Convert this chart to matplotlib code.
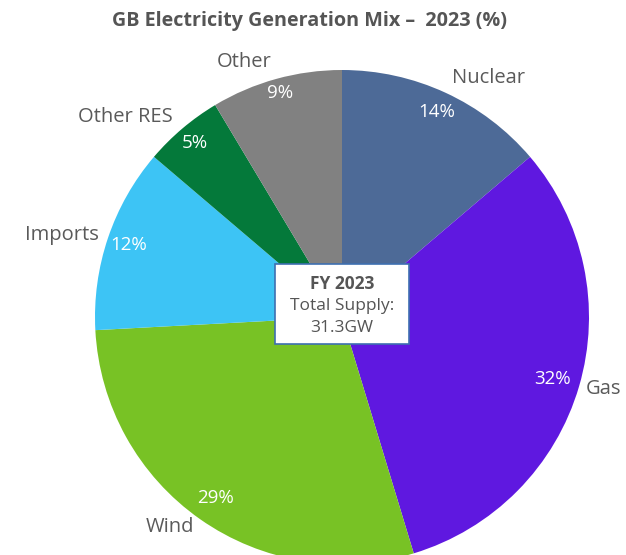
import numpy as np
import matplotlib
matplotlib.use("Agg")
import matplotlib.pyplot as plt
from matplotlib.patches import Rectangle

categories = ["Nuclear", "Gas", "Wind", "Imports", "Other RES", "Other"]
shares = [13.8, 31.6, 28.9, 12.1, 5.2, 8.6]
colors = ["#4D6A97", "#5F18E0", "#78C225", "#3DC4F5", "#04793A", "#818181"]
title = "GB Electricity Generation Mix \u2013  2023 (%)"
box_lines = ["FY 2023", "Total Supply:", "31.3GW"]

pct_labels = [f"{round(v)}%" for v in shares]
label_dist = [1.065, 1.03, 1.04, 1.04, 1.06, 1.07]
pct_dist = [0.915, 0.89, 0.895, 0.91, 0.925, 0.94]

plt.rcParams["font.family"] = ["Open Sans", "DejaVu Sans"]

W, H = 626, 555
fig = plt.figure(figsize=(W / 100, H / 100), dpi=100)
ax = fig.add_axes([0, 0, 1, 1])

cx, cy, R = 342, H - 317, 247
wedges, texts, autotexts = ax.pie(
    shares, colors=colors, labels=categories, autopct="%1.0f%%",
    startangle=90, counterclock=False, center=(cx, cy), radius=R,
    labeldistance=1.06, pctdistance=0.9,
    wedgeprops=dict(linewidth=0),
    textprops=dict(fontsize=14.5, color="#5A5A5A"))

for w, t, at, s, ld, pd in zip(wedges, texts, autotexts, pct_labels, label_dist, pct_dist):
    ang = np.deg2rad((w.theta1 + w.theta2) / 2)
    x, y = np.cos(ang), np.sin(ang)
    t.set_position((cx + ld * R * x, cy + ld * R * y))
    t.set_ha("left" if x > 0 else "right")
    t.set_va("center")
    at.set_position((cx + pd * R * x, cy + pd * R * y))
    at.set_text(s)
    at.set_color("white")
    at.set_fontsize(13.5)

ax.set_xlim(0, W)
ax.set_ylim(0, H)
ax.set_aspect("equal")
ax.axis("off")

# centre box
bw, bh = 134, 80
ax.add_patch(Rectangle((cx - bw / 2, cy - bh / 2 + 13), bw, bh,
                       facecolor="white", edgecolor="#3E6FB0", linewidth=1.2, zorder=5))
ys = [cy + 33, cy + 11, cy - 11]
for i, (line, yy) in enumerate(zip(box_lines, ys)):
    ax.text(cx, yy, line, ha="center", va="center", fontsize=12.5,
            color="#555555", fontweight="bold" if i == 0 else "normal", zorder=6)

fig.text(309 / W, 1 - 21 / H, title, ha="center", va="center",
         fontsize=14.2, fontweight="bold", color="#555555")

fig.savefig("out.png", dpi=100)
